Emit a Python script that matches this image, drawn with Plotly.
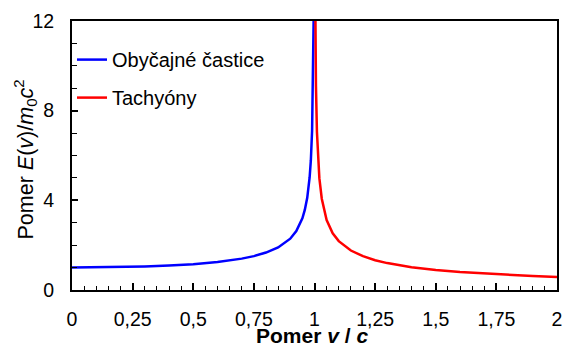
import plotly.graph_objects as go

# Ordinary particles (v < c)
v_ord = [0.0, 0.1, 0.2, 0.3, 0.4, 0.5, 0.6, 0.7, 0.75, 0.8, 0.85, 0.9, 0.925, 0.95,
         0.96, 0.97, 0.98, 0.985, 0.99, 0.993, 0.996, 0.9975]
e_ord = [1.0, 1.01, 1.02, 1.05, 1.09, 1.15, 1.25, 1.40, 1.51, 1.67, 1.90, 2.29, 2.63, 3.20,
         3.57, 4.11, 5.03, 5.79, 7.09, 8.46, 11.2, 12.9]

# Tachyons (v > c)
v_tach = [1.0025, 1.004, 1.006, 1.01, 1.02, 1.03, 1.05, 1.075, 1.1, 1.15, 1.2, 1.25, 1.3,
          1.4, 1.5, 1.6, 1.7, 1.8, 1.9, 2.0]
e_tach = [14.1, 11.2, 9.1, 7.06, 4.99, 4.07, 3.12, 2.53, 2.18, 1.76, 1.51, 1.33, 1.20,
          1.02, 0.89, 0.80, 0.73, 0.67, 0.62, 0.58]

x_tickvals = [0, 0.25, 0.5, 0.75, 1, 1.25, 1.5, 1.75, 2]
x_ticktext = ["0", "0,25", "0,5", "0,75", "1", "1,25", "1,5", "1,75", "2"]
y_tickvals = [0, 4, 8, 12]

x_title = "<b>Pomer <i>v</i> / <i>c</i></b>"
y_title = "Pomer <i>E</i>(<i>v</i>)/<i>m</i><sub>0</sub><i>c</i><sup>2</sup>"

FONT = "Liberation Sans, Arial, sans-serif"

fig = go.Figure()
fig.add_trace(go.Scatter(x=v_ord, y=e_ord, mode="lines", name="Obyčajné častice",
                         line=dict(color="#0000ff", width=2.5), legendgroup="a"))
fig.add_trace(go.Scatter(x=v_tach, y=e_tach, mode="lines", name="Tachyóny",
                         line=dict(color="#ff0000", width=2.5), legendgroup="b"))

fig.update_layout(
    width=563, height=345,
    margin=dict(l=72, r=6, t=21, b=55, autoexpand=False),
    paper_bgcolor="white", plot_bgcolor="white",
    font=dict(family=FONT, size=19.5, color="black"),
    showlegend=True,
    legend=dict(x=0.0, y=0.929, xanchor="left", yanchor="top",
                bgcolor="rgba(0,0,0,0)", font=dict(size=20, family=FONT),
                tracegroupgap=9, itemwidth=30),
    xaxis=dict(range=[0, 2], tickvals=x_tickvals, ticktext=x_ticktext,
               showgrid=False, zeroline=False, automargin=False,
               showline=True, linecolor="black", linewidth=2, mirror=True,
               ticks="inside", ticklen=7, tickwidth=1.5, tickcolor="black",
               ticklabelstandoff=11,
               minor=dict(dtick=0.05, ticks="inside", ticklen=4, tickwidth=1, tickcolor="black", showgrid=False)),
    yaxis=dict(range=[0, 12], tickvals=y_tickvals,
               showgrid=False, zeroline=False, automargin=False,
               showline=True, linecolor="black", linewidth=2, mirror=True,
               ticks="inside", ticklen=6, tickwidth=1.5, tickcolor="black",
               ticklabelstandoff=12,
               minor=dict(dtick=1, ticks="inside", ticklen=5, tickwidth=1, tickcolor="black", showgrid=False)),
    annotations=[
        dict(text=x_title, xref="paper", yref="paper", x=0.5, y=0, xanchor="center", yanchor="top",
             yshift=-32, xshift=-3, showarrow=False, font=dict(size=21, family=FONT)),
        dict(text=y_title, xref="paper", yref="paper", x=0, y=0.5, xanchor="center", yanchor="middle",
             xshift=-47, yshift=-4, textangle=-90, showarrow=False, font=dict(size=21.5, family=FONT)),
    ],
)

fig.write_html("out.html", config={"displayModeBar": False},
               post_script="document.body.style.margin='0';")
